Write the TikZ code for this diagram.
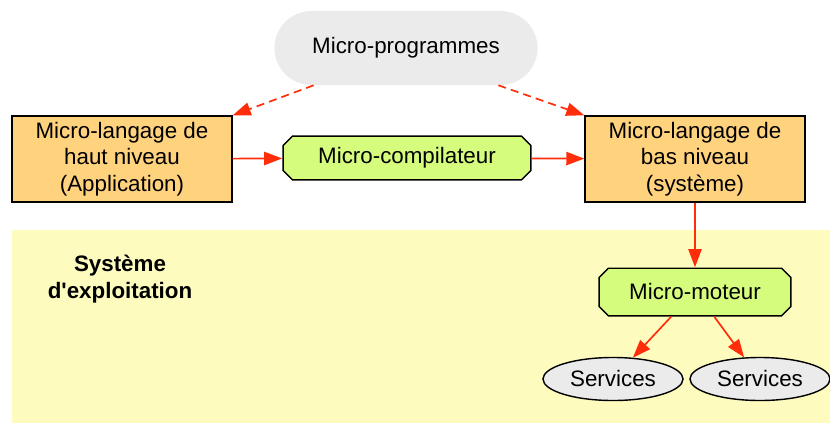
\documentclass[tikz,border=0pt]{standalone}
\usepackage{fontspec}
\setmainfont{Liberation Sans}
\usepackage{xcolor}
\usetikzlibrary{arrows.meta,shapes.geometric}
\definecolor{arrowred}{HTML}{FF2D0A}
\definecolor{boxorange}{HTML}{FFD27E}
\definecolor{boxgreen}{HTML}{D6FC7E}
\definecolor{pillgray}{HTML}{EBEBEB}
\definecolor{osyellow}{HTML}{FEFBBF}
\newcommand{\chf}{0.25cm}
\newcommand{\ins}{0.5pt}
\tikzset{
	obox/.style={draw=black, line width=1pt, fill=boxorange, align=center, minimum width=5.5cm, minimum height=2.15cm, inner sep=0pt},
	octo/.style={rectangle, inner sep=0pt, path picture={
		\draw[fill=boxgreen, line width=1pt]
			([xshift=\chf, yshift=-\ins]path picture bounding box.north west) -- ([xshift=-\chf, yshift=-\ins]path picture bounding box.north east)
			-- ([xshift=-\ins, yshift=-\chf]path picture bounding box.north east) -- ([xshift=-\ins, yshift=\chf]path picture bounding box.south east)
			-- ([xshift=-\chf, yshift=\ins]path picture bounding box.south east) -- ([xshift=\chf, yshift=\ins]path picture bounding box.south west)
			-- ([xshift=\ins, yshift=\chf]path picture bounding box.south west) -- ([xshift=\ins, yshift=-\chf]path picture bounding box.north west) -- cycle;
	}},
	svc/.style={ellipse, draw=black, line width=1pt, fill=pillgray, minimum width=3.5cm, minimum height=1.075cm, inner sep=0pt},
	rarrow/.style={draw=arrowred, line width=1.2pt, -{Triangle[length=0.45cm, width=0.33cm]}},
}
\begin{document}
\begin{tikzpicture}[x=0.025cm, y=-0.025cm, font=\fontsize{15.9}{18.8}\selectfont]
	\useasboundingbox (0,0) rectangle (830,423);
	% systeme d'exploitation
	\fill[osyellow] (12,230) rectangle (830,423);
	\node[align=center, font=\fontsize{15.9}{18.8}\selectfont\bfseries] (os) at (120,279) {Syst\`eme\\d\textquotesingle exploitation};
	% nodes
	\node[fill=pillgray, rounded corners=0.925cm, minimum width=6.575cm, minimum height=1.85cm, inner sep=0pt] (prog) at (406,48) {Micro-programmes};
	\node[obox] (haut) at (122,159) {Micro-langage de\\haut niveau\\(Application)};
	\node[octo, minimum width=6.225cm, minimum height=1.125cm] (comp) at (407,158) {Micro-compilateur};
	\node[obox] (bas) at (695,159) {Micro-langage de\\bas niveau\\(syst\`eme)};
	\node[octo, minimum width=4.825cm, minimum height=1.225cm] (moteur) at (695,292) {Micro-moteur};
	\node[svc] (svcA) at (613,379) {Services};
	\node[svc] (svcB) at (760,379) {Services};
	% connectors
	\draw[rarrow, dash pattern=on 0.2cm off 0.13cm] (prog.-158) -- (haut.north east);
	\draw[rarrow, dash pattern=on 0.2cm off 0.13cm] (prog.-22) -- (bas.north west);
	\draw[rarrow] (haut) -- (comp);
	\draw[rarrow] (comp) -- (bas);
	\draw[rarrow] (bas) -- (moteur);
	\draw[rarrow] (moteur.-134) -- (svcA);
	\draw[rarrow] (moteur.-52) -- (svcB);
\end{tikzpicture}
\end{document}
